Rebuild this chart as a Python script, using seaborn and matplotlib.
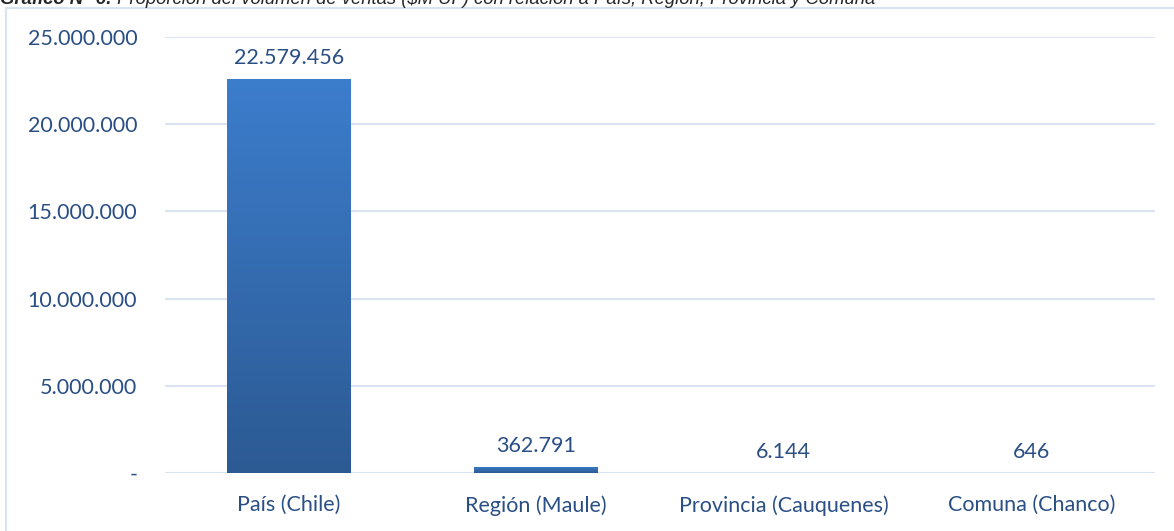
import numpy as np
import pandas as pd
import matplotlib
matplotlib.use('Agg')
import matplotlib.pyplot as plt
from matplotlib.patches import Rectangle
from matplotlib.colors import LinearSegmentedColormap
import seaborn as sns

# data
categories = ['País (Chile)', 'Región (Maule)', 'Provincia (Cauquenes)', 'Comuna (Chanco)']
ventas = [22579456, 362791, 6144, 646]
y_ticks = [0, 5000000, 10000000, 15000000, 20000000, 25000000]

title_bold = 'Gráfico N° 6:'
title_rest = ' Proporción del volumen de ventas ($M UF) con relación a País, Región, Provincia y Comuna'

text_col = '#2A4F85'
grid_col = '#D9E3F1'


def fmt_num(v):
    if v == 0:
        return '-'
    return f'{v:,.0f}'.replace(',', '.')


df = pd.DataFrame({'categoria': categories, 'ventas': ventas})

sns.set_style('white')
plt.rcParams['font.family'] = ['Lato', 'DejaVu Sans']

fig = plt.figure(figsize=(11.74, 5.31), dpi=100)
ax = fig.add_axes([165 / 1174, 1 - 473 / 531, 990 / 1174, 436 / 531])

sns.barplot(data=df, x='categoria', y='ventas', color='#3A7AC8', width=0.5,
            saturation=1, ax=ax, zorder=2)

# vertical gradient inside each bar (light on top, darker at the base)
cmap = LinearSegmentedColormap.from_list('barras', ['#2C5A93', '#3C7DCC'])
grad = np.linspace(0, 1, 256).reshape(-1, 1)
for p in ax.patches:
    x0, y0 = p.get_x(), p.get_y()
    w, h = p.get_width(), p.get_height()
    p.set_facecolor('none')
    p.set_edgecolor('none')
    im = ax.imshow(grad, cmap=cmap, aspect='auto', origin='lower',
                   extent=[x0, x0 + w, y0, y0 + h], zorder=2)
    im.set_clip_path(p)

ax.bar_label(ax.containers[0], labels=[fmt_num(v) for v in ventas],
             padding=8, fontsize=15.5, color=text_col)

ax.set_xlim(-0.5, len(categories) - 0.5)
ax.set_ylim(0, 25000000)
ax.set_yticks(y_ticks)
ax.set_yticklabels([fmt_num(v) for v in y_ticks])
ax.yaxis.grid(True, color=grid_col, linewidth=1.5, zorder=0)
ax.set_axisbelow(True)
ax.tick_params(axis='y', length=0, pad=20, labelsize=15.5, labelcolor=text_col)
ax.tick_params(axis='x', length=0, pad=16, labelsize=15.5, labelcolor=text_col)
ax.set_xlabel('')
ax.set_ylabel('')
sns.despine(ax=ax, left=True, bottom=True)

# chart frame (partly outside the picture, as in the reference)
fig.add_artist(Rectangle((6 / 1174, -0.2), 1.2, 1 - 8 / 531 + 0.2, fill=False,
                         edgecolor=grid_col, linewidth=1.5,
                         transform=fig.transFigure))

# caption cut off at the top edge
t1 = fig.text(0.0, 1 - 4 / 531, title_bold, fontsize=13.3, fontweight='bold',
              fontstyle='italic', family='Liberation Sans', va='baseline')
fig.canvas.draw()
bb = t1.get_window_extent()
fig.text(bb.x1 / fig.bbox.width, 1 - 4 / 531, title_rest, fontsize=13.3,
         fontstyle='italic', family='Liberation Sans', va='baseline')

fig.savefig('out.png', dpi=100)
